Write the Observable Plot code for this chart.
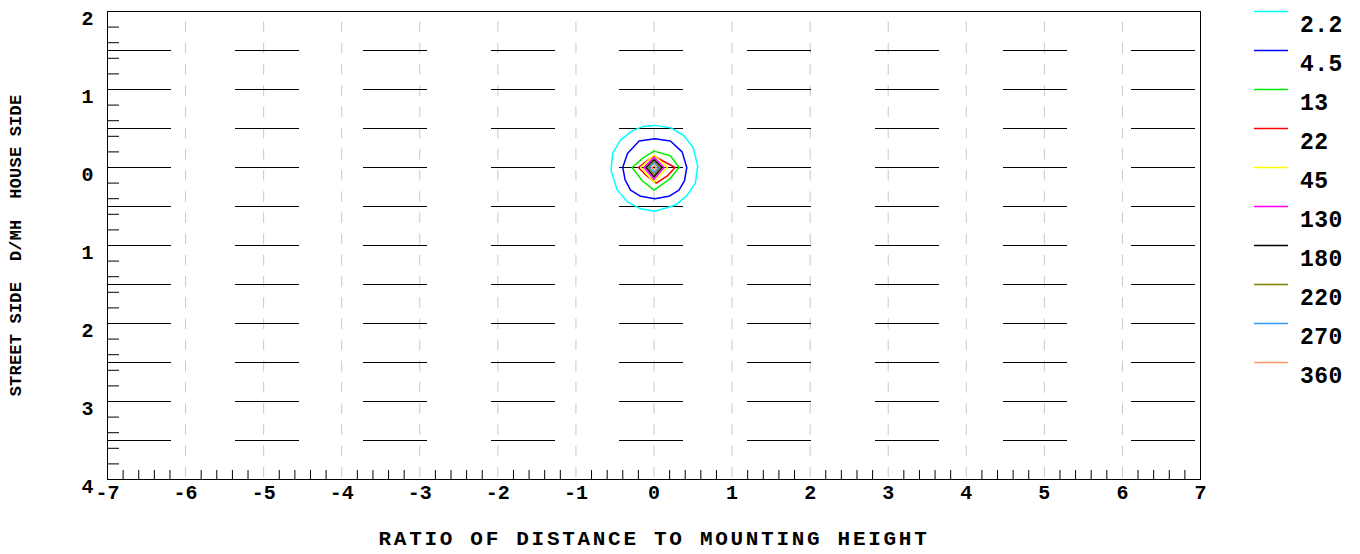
<!DOCTYPE html>
<html>
<head>
<meta charset="utf-8">
<script src="https://cdn.jsdelivr.net/npm/d3@7"></script>
<script src="https://cdn.jsdelivr.net/npm/@observablehq/plot@0.6"></script>
<style>
  html, body { margin: 0; padding: 0; background: #fff; }
  #chart { position: relative; width: 1360px; height: 554px; }
  #chart svg, #chart svg text { font-family: "Liberation Mono", "DejaVu Sans Mono", monospace !important; font-weight: bold; }
</style>
</head>
<body>
<div id="chart"></div>
<script>
// ---- data ----
const levels = ["2.2", "4.5", "13", "22", "45", "130", "180", "220", "270", "360"];
const levelColors = ["#00ffff", "#0000ff", "#00ee00", "#ff0000", "#ffff00", "#ff00ff", "#000000", "#808000", "#3399ff", "#ff9966"];

// contour vertices [x, y] in units of distance / mounting height
const c2_2 = [[0.01,0.54],[0.21,0.51],[0.38,0.41],[0.50,0.26],[0.56,0.02],[0.53,-0.20],[0.42,-0.36],[0.28,-0.48],[0.01,-0.56],[-0.17,-0.53],[-0.34,-0.44],[-0.47,-0.29],[-0.55,-0.04],[-0.53,0.18],[-0.43,0.35],[-0.28,0.47],[-0.13,0.53]];
const c4_5 = [[0.01,0.37],[0.21,0.34],[0.36,0.20],[0.42,0.00],[0.39,-0.17],[0.32,-0.29],[0.19,-0.37],[0.01,-0.40],[-0.17,-0.37],[-0.30,-0.29],[-0.37,-0.16],[-0.40,0.00],[-0.34,0.18],[-0.19,0.34]];
const c13 = [[0.00,0.21],[0.21,0.15],[0.32,0.00],[0.20,-0.15],[0.00,-0.29],[-0.15,-0.17],[-0.28,0.00],[-0.13,0.13]];
const c22 = [[0.00,0.15],[0.12,0.08],[0.27,0.00],[0.18,-0.10],[0.03,-0.20],[-0.10,-0.10],[-0.20,0.00],[-0.10,0.08]];
const c45 = [[0,0.16],[0.17,0],[0,-0.19],[-0.17,0]];
const c130 = [[0,0.13],[0.13,0],[0,-0.15],[-0.13,0]];
const c180 = [[0,0.10],[0.10,0],[0,-0.12],[-0.10,0]];
const c220 = [[0,0.08],[0.08,0],[0,-0.09],[-0.08,0]];
const c270 = [[0,0.06],[0.06,0],[0,-0.06],[-0.06,0]];
const c360 = [[0,0.03],[0.03,0],[0,-0.03],[-0.03,0]];
const contours = [c2_2, c4_5, c13, c22, c45, c130, c180, c220, c270, c360];

const hLines = [1.5, 1, 0.5, 0, -0.5, -1, -1.5, -2, -2.5, -3, -3.5];
const vLines = [-6, -5, -4, -3, -2, -1, 0, 1, 2, 3, 4, 5, 6];

const xTicks = [-7, -6, -5, -4, -3, -2, -1, 0, 1, 2, 3, 4, 5, 6, 7];
const xTickLabels = ["-7", "-6", "-5", "-4", "-3", "-2", "-1", "0", "1", "2", "3", "4", "5", "6", "7"];
const yTicks = [2, 1, 0, -1, -2, -3, -4];
const yTickLabels = ["2", "1", "0", "1", "2", "3", "4"];

const xTitle = "RATIO OF DISTANCE TO MOUNTING HEIGHT";
const yTitle = "STREET SIDE\u00a0\u00a0D/MH\u00a0\u00a0HOUSE SIDE";

// ---- derived tables ----
const contourRows = contours.flatMap((pts, i) => pts.map(([x, y]) => ({x, y, level: levels[i]})));
const xMinor = d3.range(-70, 71, 2).filter(k => k % 10 !== 0).map(k => k / 10);
const yMinor = d3.range(-40, 21, 2).map(k => k / 10);

const chart = Plot.plot({
  width: 1360,
  height: 554,
  marginTop: 11,
  marginBottom: 75,
  marginLeft: 107,
  marginRight: 160,
  x: {domain: [-7, 7]},
  y: {domain: [-4, 2]},
  color: {domain: levels, range: levelColors},
  style: {fontSize: "20px", color: "black", background: "white", overflow: "visible"},
  marks: [
    Plot.ruleX(vLines, {stroke: "#c8c8c8", strokeDasharray: "10.6,10.6", strokeDashoffset: 10.6}),
    Plot.ruleY(hLines, {stroke: "black", strokeDasharray: "64,64"}),
    Plot.tickX(xMinor, {x: d => d, insetTop: 459, stroke: "black"}),
    Plot.tickY(yMinor, {y: d => d, insetRight: 1081, stroke: "black"}),
    Plot.line(contourRows, {x: "x", y: "y", z: "level", stroke: "level", curve: "linear-closed", strokeWidth: 1.5}),
    Plot.frame({stroke: "black"}),
    Plot.axisX({ticks: xTicks, tickFormat: d => xTickLabels[xTicks.indexOf(d)], tickSize: 0, tickPadding: 5, fontSize: 20, label: null}),
    Plot.axisY({ticks: yTicks, tickFormat: d => yTickLabels[yTicks.indexOf(d)], tickSize: 0, tickPadding: 14, dy: 7, fontSize: 20, label: null}),
    Plot.text([xTitle], {frameAnchor: "bottom", dy: 65, fontSize: 21}),
    Plot.text([yTitle], {frameAnchor: "left", textAnchor: "middle", dx: -92, rotate: -90, fontSize: 17})
  ]
});

document.getElementById("chart").appendChild(chart);

const svg = d3.select(chart);
svg.selectAll("text").each(function() {
  const t = this.textContent;
  if (t === xTitle) d3.select(this).attr("letter-spacing", "2.7px");
  if (t === yTitle) d3.select(this).attr("letter-spacing", "0.2px");
});

// legend
const lg = svg.append("g").attr("font-size", 23).attr("text-anchor", "start");
levels.forEach((lv, i) => {
  lg.append("line")
    .attr("x1", 1254).attr("x2", 1288)
    .attr("y1", 11.5 + 39 * i).attr("y2", 11.5 + 39 * i)
    .attr("stroke", levelColors[i]).attr("stroke-width", 1.5);
  lg.append("text")
    .attr("x", 1300).attr("y", 32 + 39 * i)
    .attr("fill", "black")
    .attr("letter-spacing", "0.5px")
    .text(lv);
});
</script>
</body>
</html>
